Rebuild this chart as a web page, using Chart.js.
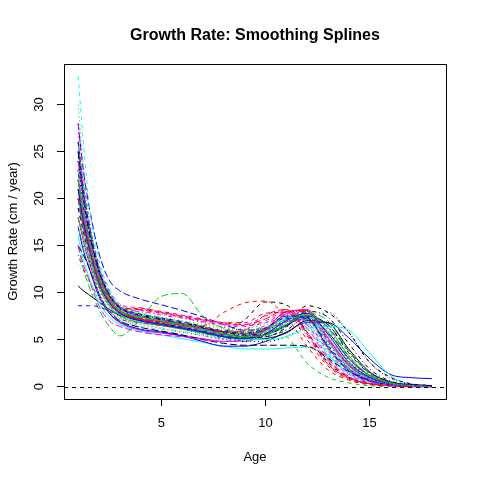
<!DOCTYPE html>
<html><head><meta charset="utf-8">
<script src="https://cdn.jsdelivr.net/npm/chart.js@4/dist/chart.umd.min.js"></script>
<style>html,body{margin:0;padding:0;background:#fff}canvas{display:block}</style>
</head><body>
<canvas id="c" width="480" height="480"></canvas>
<script>
// ---- data ----
const ages = [1, 1.25, 1.5, 2, 2.5, 3, 4, 5, 6, 7, 8, 9, 10, 11, 12, 13, 14, 15, 16, 17, 18];

const child01 = [10.7, 10.2, 9.8, 9.0, 8.2, 7.6, 7.0, 6.6, 6.2, 5.8, 5.4, 5.2, 5.5, 6.6, 7.4, 5.8, 3.0, 1.2, 0.4, 0.1, 0.0];
const child02 = [22, 18.5, 15.8, 11.9, 9.4, 8.2, 7.4, 7.0, 6.7, 6.5, 7.9, 8.9, 9.1, 7.4, 4.3, 1.8, 0.7, 0.2, 0.1, 0.0, 0.0];
const child03 = [21, 18, 15.5, 11.7, 9.3, 8.2, 7.9, 7.7, 7.4, 6.9, 6.4, 6.2, 6.7, 7.9, 6.8, 3.6, 1.5, 0.5, 0.2, 0.1, 0.0];
const child04 = [20, 17.5, 15, 11.2, 9.0, 7.8, 7.0, 6.7, 6.2, 5.7, 5.2, 5.0, 5.5, 6.8, 7.5, 5.0, 2.4, 0.9, 0.3, 0.1, 0.0];
const child05 = [25, 20, 16.5, 11.9, 9.4, 8.1, 7.1, 6.6, 6.2, 5.7, 5.3, 5.2, 6.0, 7.3, 6.6, 3.4, 1.4, 0.5, 0.2, 0.1, 0.0];
const child06 = [18, 15.5, 13.5, 9.9, 7.8, 6.8, 6.0, 5.7, 5.4, 5.1, 4.8, 4.8, 5.6, 6.9, 7.1, 4.2, 1.8, 0.7, 0.2, 0.1, 0.0];
const child07 = [21, 17.5, 15, 11.3, 9.1, 7.9, 7.3, 7.0, 6.6, 6.2, 5.9, 7.1, 9.0, 8.7, 5.8, 2.6, 1.0, 0.3, 0.1, 0.0, 0.0];
const child08 = [27, 21.5, 17.5, 12.5, 9.8, 8.6, 8.2, 7.8, 7.3, 6.8, 6.3, 6.0, 6.3, 7.4, 7.6, 4.8, 2.2, 0.8, 0.3, 0.1, 0.0];
const child09 = [23, 19, 16, 11.8, 9.4, 8.1, 7.3, 6.9, 6.4, 5.9, 5.4, 5.2, 5.7, 7.1, 7.6, 4.4, 1.9, 0.7, 0.2, 0.1, 0.0];
const child10 = [28, 23, 19.5, 14.2, 11.3, 10.2, 9.3, 8.7, 8.1, 7.4, 6.6, 6.0, 6.2, 7.3, 7.3, 4.2, 1.7, 0.6, 0.2, 0.1, 0.0];
const child11 = [16, 13.5, 11.8, 9.0, 7.4, 6.6, 5.9, 5.5, 5.1, 4.7, 4.3, 4.0, 4.0, 4.1, 4.2, 3.2, 1.8, 0.7, 0.2, 0.1, 0.0];
const child12 = [24, 19.5, 16.5, 12.1, 9.6, 8.3, 8.1, 7.8, 7.4, 7.0, 6.6, 6.4, 7.0, 8.0, 6.6, 3.2, 1.3, 0.4, 0.1, 0.0, 0.0];
const child13 = [17, 15, 13.5, 10.6, 8.8, 7.7, 6.9, 6.5, 6.1, 5.6, 5.1, 4.8, 4.8, 5.3, 6.7, 7.9, 5.8, 2.6, 0.9, 0.3, 0.1];
const child14 = [21, 18, 15.5, 11.5, 9.2, 8.0, 7.1, 6.8, 6.4, 6.0, 5.6, 5.4, 5.9, 7.9, 8.0, 5.0, 2.3, 0.8, 0.3, 0.1, 0.0];
const child15 = [15, 12.5, 10.8, 8.2, 6.4, 5.4, 7.2, 9.6, 9.9, 7.5, 6.2, 5.8, 6.2, 7.5, 7.2, 4.0, 1.7, 0.6, 0.2, 0.1, 0.0];
const child16 = [17, 14.5, 12.8, 9.6, 7.8, 6.9, 6.1, 5.8, 5.4, 4.8, 4.3, 4.3, 4.8, 5.8, 6.8, 6.8, 5.2, 3.0, 1.3, 0.95, 0.85];
const child17 = [33, 26, 20, 13.5, 10.4, 8.8, 7.7, 7.2, 6.7, 6.2, 5.8, 5.7, 6.3, 7.5, 7.2, 4.2, 1.8, 0.6, 0.2, 0.1, 0.0];
const child18 = [20, 17, 14.5, 10.7, 8.6, 7.4, 6.3, 5.9, 5.5, 5.1, 4.8, 4.8, 5.5, 6.9, 7.0, 4.0, 1.7, 0.6, 0.2, 0.1, 0.0];
const child19 = [23, 19, 16, 11.7, 9.4, 8.1, 7.2, 6.9, 6.5, 6.0, 5.5, 5.2, 5.3, 6.0, 7.4, 6.6, 3.6, 1.4, 0.5, 0.2, 0.1];
const child20 = [25, 20.5, 17, 12.3, 9.7, 8.4, 8.2, 7.9, 7.5, 7.1, 6.8, 6.6, 7.2, 8.2, 5.8, 2.8, 1.0, 0.3, 0.1, 0.0, 0.0];
const child21 = [18, 16, 14, 10.6, 8.6, 7.5, 6.8, 6.5, 6.1, 5.7, 5.3, 5.2, 5.9, 7.2, 7.6, 4.8, 2.2, 0.8, 0.3, 0.1, 0.0];
const child22 = [8.6, 8.6, 8.6, 8.5, 8.0, 7.6, 7.0, 6.7, 6.3, 5.9, 5.5, 5.4, 6.1, 7.3, 7.2, 4.4, 1.9, 0.7, 0.2, 0.1, 0.0];
const child23 = [21, 17.5, 15, 11.2, 9.0, 7.9, 7.1, 6.8, 6.4, 6.0, 5.6, 5.5, 6.2, 7.4, 6.4, 3.3, 1.3, 0.4, 0.1, 0.0, 0.0];
const child24 = [26, 21, 17, 12.3, 9.6, 8.2, 8.0, 7.6, 7.3, 6.9, 6.6, 6.6, 7.5, 8.0, 5.4, 2.4, 0.9, 0.3, 0.1, 0.0, 0.0];
const child25 = [15, 14, 12.8, 9.9, 8.0, 7.0, 6.3, 5.9, 5.5, 5.0, 4.6, 4.4, 4.4, 4.4, 4.3, 3.0, 1.6, 0.7, 0.2, 0.1, 0.0];
const child26 = [22, 18.5, 15.8, 11.7, 9.4, 8.1, 7.2, 6.9, 6.6, 6.2, 5.8, 5.6, 6.1, 8.0, 8.1, 5.2, 2.3, 0.9, 0.3, 0.1, 0.0];
const child27 = [19, 16.5, 14.5, 10.8, 8.8, 7.6, 6.9, 6.5, 6.2, 5.9, 5.7, 5.9, 6.3, 5.4, 2.5, 1.0, 0.4, 0.1, 0.0, 0.0, 0.0];
const child28 = [24, 20, 17, 12.5, 9.9, 8.5, 7.6, 7.2, 6.8, 6.3, 5.8, 5.6, 6.0, 7.2, 7.5, 4.6, 2.0, 0.8, 0.3, 0.1, 0.0];
const child29 = [17, 15, 13.2, 10.0, 8.1, 7.1, 6.4, 6.1, 5.8, 5.4, 5.0, 4.8, 5.2, 6.4, 7.4, 5.8, 2.8, 1.0, 0.3, 0.1, 0.0];
const child30 = [15, 13, 11.5, 8.6, 7.0, 6.4, 5.8, 5.5, 5.3, 5.0, 4.8, 5.0, 6.1, 7.5, 6.2, 3.0, 1.1, 0.4, 0.1, 0.0, 0.0];
const child31 = [20, 17, 14.8, 11.0, 9.0, 7.9, 7.1, 6.7, 6.3, 5.8, 5.3, 5.0, 5.1, 5.7, 7.0, 6.8, 4.0, 1.6, 0.5, 0.2, 0.1];
const child32 = [23, 19, 16.2, 11.9, 9.6, 8.4, 8.3, 8.0, 7.6, 7.2, 6.8, 6.8, 7.8, 7.9, 5.0, 2.2, 0.8, 0.3, 0.1, 0.0, 0.0];
const child33 = [30, 23.5, 18.5, 12.9, 10.1, 8.7, 7.8, 7.4, 7.0, 6.6, 6.1, 5.9, 6.2, 7.4, 7.9, 5.4, 2.5, 0.9, 0.3, 0.1, 0.0];
const child34 = [22, 18.5, 15.5, 11.4, 9.2, 8.1, 7.4, 7.1, 6.7, 6.2, 5.7, 5.4, 5.5, 6.5, 7.6, 6.4, 3.2, 1.2, 0.4, 0.1, 0.0];
const child35 = [26, 21, 17.5, 12.7, 10.0, 8.5, 7.5, 7.0, 6.5, 6.0, 5.5, 5.3, 5.9, 7.2, 7.6, 4.8, 2.1, 0.8, 0.3, 0.1, 0.0];
const child36 = [22, 18, 15.2, 11.2, 9.1, 7.9, 7.1, 6.7, 6.3, 5.9, 5.5, 5.3, 5.9, 7.8, 8.2, 5.2, 2.4, 0.9, 0.3, 0.1, 0.0];
const child37 = [19, 16.5, 14.4, 10.9, 8.9, 7.8, 7.0, 6.7, 6.3, 5.9, 5.5, 5.2, 5.3, 6.3, 8.6, 7.9, 5.8, 2.6, 1.0, 0.3, 0.1];
const child38 = [18, 15.5, 13.6, 10.3, 8.4, 7.3, 6.6, 6.2, 5.8, 5.4, 5.0, 4.9, 5.4, 6.6, 7.6, 5.6, 2.6, 1.0, 0.3, 0.1, 0.0];
const child39 = [21, 17.5, 15, 11.2, 9.2, 8.0, 7.3, 7.0, 6.6, 6.1, 5.6, 5.4, 5.9, 7.1, 7.7, 6.2, 3.0, 1.1, 0.3, 0.1, 0.0];
const child40 = [25, 20.5, 17, 12.3, 9.8, 8.4, 7.5, 7.1, 6.6, 6.1, 5.6, 5.3, 5.5, 6.5, 7.5, 6.6, 3.8, 1.5, 0.5, 0.2, 0.1];
const child41 = [20, 17, 14.6, 10.9, 8.8, 7.7, 6.9, 6.6, 6.2, 5.8, 5.3, 5.0, 5.0, 5.3, 6.2, 6.4, 6.0, 3.6, 1.2, 0.1, 0.0];
const child42 = [28, 22.5, 18, 12.9, 10.2, 8.7, 8.4, 7.9, 7.5, 7.1, 6.7, 6.5, 6.8, 7.8, 7.8, 4.9, 2.0, 0.7, 0.2, 0.1, 0.0];
const child43 = [24, 19.5, 16.5, 12.0, 9.6, 8.3, 7.5, 7.1, 6.7, 6.3, 5.9, 5.7, 6.0, 7.0, 7.9, 6.0, 2.8, 1.0, 0.3, 0.1, 0.0];
const child44 = [14, 12.5, 11.4, 9.4, 8.0, 7.2, 6.8, 6.5, 6.2, 5.8, 5.4, 5.3, 6.0, 7.6, 7.4, 4.2, 1.7, 0.6, 0.2, 0.1, 0.0];
const child45 = [26, 21, 17.5, 12.6, 9.9, 8.5, 7.7, 7.3, 6.9, 6.4, 5.9, 5.6, 5.7, 6.6, 7.8, 7.0, 3.8, 1.4, 0.4, 0.1, 0.0];
const child46 = [21, 17.5, 15, 11.0, 8.9, 7.8, 7.0, 6.6, 6.2, 5.8, 5.3, 5.1, 5.6, 7.0, 7.8, 5.6, 2.6, 1.0, 0.3, 0.1, 0.0];
const child47 = [23, 19, 16, 11.8, 9.4, 8.2, 7.4, 7.0, 6.5, 6.0, 5.5, 5.3, 5.9, 7.4, 6.9, 3.6, 1.4, 0.5, 0.2, 0.1, 0.0];
const child48 = [19, 16.5, 14.5, 10.9, 8.9, 7.8, 7.1, 6.8, 6.4, 6.0, 5.6, 5.4, 5.8, 7.0, 7.9, 6.2, 3.0, 1.1, 0.3, 0.1, 0.0];
const child49 = [25, 20, 16.8, 12.2, 9.7, 8.4, 7.6, 7.2, 6.8, 6.3, 5.8, 5.5, 5.6, 6.4, 8.0, 7.4, 4.6, 1.9, 0.6, 0.2, 0.1];
const child50 = [20, 17, 14.8, 11.1, 9.0, 7.9, 7.2, 6.9, 6.5, 6.1, 5.8, 6.0, 7.6, 8.2, 5.6, 2.4, 0.9, 0.3, 0.1, 0.0, 0.0];
const child51 = [22, 18.5, 15.8, 11.6, 9.3, 8.1, 7.4, 7.0, 6.6, 6.1, 5.6, 5.3, 5.5, 6.6, 7.6, 6.3, 3.3, 1.2, 0.4, 0.1, 0.0];
const child52 = [26, 21, 17.5, 12.5, 9.8, 8.5, 7.7, 7.3, 6.9, 6.4, 5.9, 5.7, 6.2, 7.5, 7.3, 4.2, 1.7, 0.6, 0.2, 0.1, 0.0];
const child53 = [13, 12, 11.2, 9.4, 8.0, 7.2, 6.7, 6.3, 5.9, 5.5, 5.1, 5.0, 5.5, 6.8, 7.7, 5.4, 2.4, 0.9, 0.3, 0.1, 0.0];
const child54 = [24, 19.5, 16.2, 11.9, 9.5, 8.3, 7.5, 7.1, 6.7, 6.3, 5.9, 5.8, 6.5, 7.7, 6.9, 3.8, 1.5, 0.5, 0.2, 0.1, 0.0];

const series = [child01, child02, child03, child04, child05, child06, child07, child08, child09, child10,
  child11, child12, child13, child14, child15, child16, child17, child18, child19, child20,
  child21, child22, child23, child24, child25, child26, child27, child28, child29, child30,
  child31, child32, child33, child34, child35, child36, child37, child38, child39, child40,
  child41, child42, child43, child44, child45, child46, child47, child48, child49, child50,
  child51, child52, child53, child54];

const xTickStep = 5;
const yTickStep = 5;
const xLimits = [0.32, 18.68];
const yLimits = [-1.32, 34.32];
const referenceLevel = 0;

const titleText = 'Growth Rate: Smoothing Splines';
const xLabel = 'Age';
const yLabel = 'Growth Rate (cm / year)';

// ---- styles ----
const palette = ['#000000', '#FF0000', '#00CD00', '#0000FF', '#00FFFF', '#FF00FF'];
const dashes = [[], [4, 4], [1, 3], [1, 3, 4, 3], [7, 3]];
const FONT = "'Liberation Sans', Arial, sans-serif";

const datasets = series.map((vals, i) => ({
  label: 'child ' + (i + 1),
  data: vals.map((v, k) => ({x: ages[k], y: v})),
  borderColor: palette[i % palette.length],
  borderDash: dashes[i % dashes.length],
  borderWidth: 1,
  pointRadius: 0,
  fill: false,
  cubicInterpolationMode: 'monotone',
  order: -i
}));

const decor = {
  id: 'decor',
  afterDatasetsDraw(chart) {
    const {ctx, chartArea: a, scales} = chart;
    const y0 = Math.round(scales.y.getPixelForValue(referenceLevel)) + 0.5;
    ctx.save();
    ctx.strokeStyle = '#000';
    ctx.lineWidth = 1;
    ctx.setLineDash([4, 4]);
    ctx.beginPath();
    ctx.moveTo(a.left, y0);
    ctx.lineTo(a.right, y0);
    ctx.stroke();
    ctx.restore();
  },
  afterDraw(chart) {
    const {ctx, chartArea: a} = chart;
    ctx.save();
    ctx.strokeStyle = '#000';
    ctx.lineWidth = 1;
    ctx.setLineDash([]);
    ctx.strokeRect(Math.round(a.left) + 0.5, Math.round(a.top) + 0.5,
      Math.round(a.right - a.left), Math.round(a.bottom - a.top));
    ctx.fillStyle = '#000';
    const cx = (a.left + a.right) / 2;
    ctx.textAlign = 'center';
    ctx.textBaseline = 'alphabetic';
    ctx.font = 'bold 16px ' + FONT;
    ctx.fillText(titleText, cx, 39.5);
    ctx.font = '13px ' + FONT;
    ctx.fillText(xLabel, cx, 461);
    ctx.translate(16.5, (a.top + a.bottom) / 2);
    ctx.rotate(-Math.PI / 2);
    ctx.fillText(yLabel, 0, 0);
    ctx.restore();
  }
};

new Chart(document.getElementById('c'), {
  type: 'line',
  data: {datasets},
  options: {
    responsive: false,
    animation: false,
    devicePixelRatio: 1,
    layout: {padding: {top: 64, right: 34, left: 0, bottom: 0}},
    plugins: {legend: {display: false}, tooltip: {enabled: false}, title: {display: false}},
    scales: {
      x: {
        type: 'linear',
        min: xLimits[0], max: xLimits[1],
        afterFit(s) { s.height = 81; },
        border: {display: false},
        grid: {drawOnChartArea: false, drawTicks: true, tickLength: 7, color: '#000', lineWidth: 1},
        ticks: {stepSize: xTickStep, includeBounds: false, autoSkip: false, maxRotation: 0,
          color: '#000', padding: 10, font: {family: FONT, size: 13}}
      },
      y: {
        type: 'linear',
        min: yLimits[0], max: yLimits[1],
        afterFit(s) { s.width = 64; },
        border: {display: false},
        grid: {drawOnChartArea: false, drawTicks: true, tickLength: 7, color: '#000', lineWidth: 1},
        ticks: {stepSize: yTickStep, includeBounds: false, autoSkip: false,
          minRotation: 90, maxRotation: 90, crossAlign: 'center',
          color: '#000', padding: 10, font: {family: FONT, size: 13}}
      }
    }
  },
  plugins: [decor]
});
</script>
</body></html>
